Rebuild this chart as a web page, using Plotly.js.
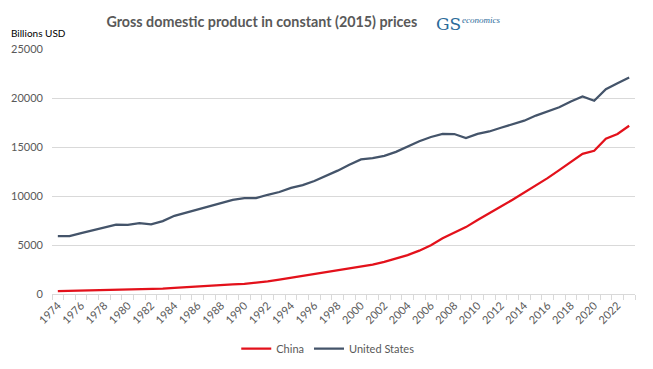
<!DOCTYPE html>
<html>
<head>
<meta charset="utf-8">
<script src="https://cdn.plot.ly/plotly-3.0.1.min.js"></script>
<style>
html,body{margin:0;padding:0;background:#fff;}
#chart{width:653px;height:369px;}
</style>
</head>
<body>
<div id="chart"></div>
<script>
const years = [1974,1975,1976,1977,1978,1979,1980,1981,1982,1983,1984,1985,1986,1987,1988,1989,1990,1991,1992,1993,1994,1995,1996,1997,1998,1999,2000,2001,2002,2003,2004,2005,2006,2007,2008,2009,2010,2011,2012,2013,2014,2015,2016,2017,2018,2019,2020,2021,2022,2023];
const china = [284,309,304,327,365,393,423,445,485,538,620,703,766,855,950,990,1029,1125,1284,1463,1653,1835,2017,2202,2374,2557,2774,3004,3277,3605,3969,4422,4983,5691,6240,6827,7553,8275,8925,9619,10334,11062,11819,12641,13494,14297,14612,15847,16322,17171];
const usa = [5909,5897,6215,6502,6862,7080,7062,7241,7110,7436,7974,8307,8598,8896,9268,9609,9791,9780,10125,10404,10822,11114,11536,12049,12589,13192,13730,13867,14103,14506,15064,15588,16022,16342,16326,15903,16332,16587,16967,17288,17684,18206,18600,19050,19650,20150,19720,20900,21500,22100];
const seriesNames = ["China", "United States"];
const tickYears = [1974,1976,1978,1980,1982,1984,1986,1988,1990,1992,1994,1996,1998,2000,2002,2004,2006,2008,2010,2012,2014,2016,2018,2020,2022];

const traces = [
  {x: years, y: china, name: seriesNames[0], type: 'scatter', mode: 'lines',
   line: {color: '#e3111b', width: 2.25}},
  {x: years, y: usa, name: seriesNames[1], type: 'scatter', mode: 'lines',
   line: {color: '#44546a', width: 2.25}}
];

const layout = {
  width: 653, height: 369,
  margin: {l: 52, r: 18, t: 49, b: 75},
  paper_bgcolor: '#fff', plot_bgcolor: '#fff',
  font: {family: 'Lato, "Open Sans", sans-serif', color: '#595959', size: 11},
  title: {text: '<b>Gross domestic product in constant (2015) prices</b>',
          font: {family: 'Lato, sans-serif', size: 14.3, color: '#595959'},
          x: 0.401, xanchor: 'center', y: 0.94, yanchor: 'middle'},
  xaxis: {
    type: 'linear', range: [1973.5, 2023.5], automargin: false,
    tickmode: 'array', tickvals: tickYears, ticktext: tickYears.map(String),
    tickangle: -45, ticks: '', showgrid: false, zeroline: false,
    showline: true, linecolor: '#d9d9d9', linewidth: 1,
    tickfont: {size: 11, color: '#595959'},
    minor: {ticks: 'outside', tick0: 1973.5, dtick: 1, ticklen: 5, tickcolor: '#d9d9d9', showgrid: false}
  },
  yaxis: {
    range: [0, 25000], dtick: 5000, tickformat: 'd', automargin: false,
    showgrid: true, gridcolor: '#d9d9d9', gridwidth: 1,
    zeroline: false, showline: false, ticks: '', ticklabelstandoff: 8,
    tickfont: {size: 11, color: '#595959'}
  },
  showlegend: true,
  legend: {orientation: 'h', x: 0.473, xanchor: 'center', yref: 'container', y: 0.055, yanchor: 'middle',
           itemwidth: 30, font: {size: 11, color: '#595959'}},
  annotations: [
    {text: 'Billions USD', xref: 'paper', yref: 'paper', x: -0.073, y: 1.065, xanchor: 'left', yanchor: 'middle',
     showarrow: false, font: {size: 10, color: '#000'}},
    {text: 'GS', xref: 'paper', yref: 'paper', x: 0.655, y: 1.1, xanchor: 'left', yanchor: 'middle',
     showarrow: false, font: {family: 'DejaVu Serif, serif', size: 17, color: '#2b6b9a'}},
    {text: '<i>economics</i>', xref: 'paper', yref: 'paper', x: 0.7, y: 1.12, xanchor: 'left', yanchor: 'middle',
     showarrow: false, font: {family: 'Liberation Serif, serif', size: 9, color: '#2b6b9a'}}
  ]
};

Plotly.newPlot('chart', traces, layout, {displayModeBar: false, staticPlot: true});
</script>
</body>
</html>
